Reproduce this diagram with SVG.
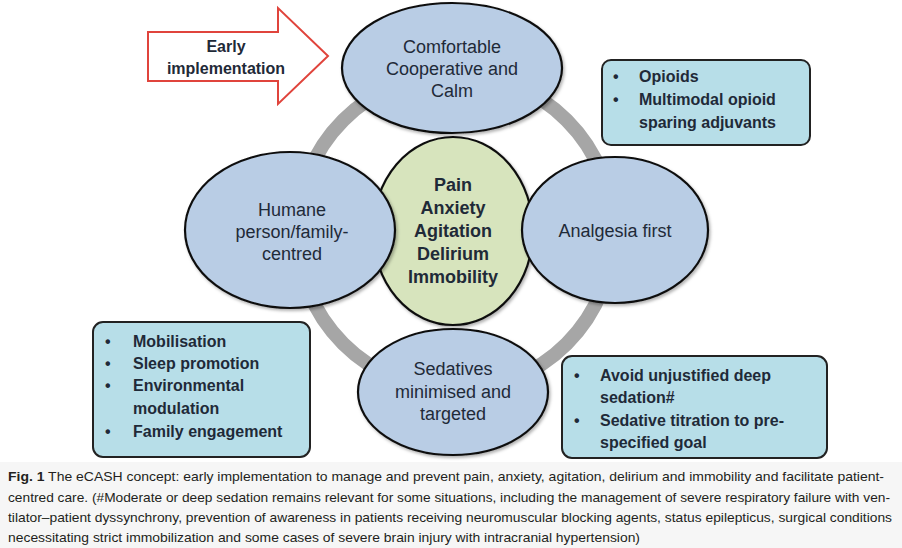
<svg xmlns="http://www.w3.org/2000/svg" width="902" height="548" viewBox="0 0 902 548">
<defs>
<filter id="sh" x="-10%" y="-10%" width="125%" height="125%">
<feDropShadow dx="1.5" dy="2" stdDeviation="1.5" flood-color="#000" flood-opacity="0.3"/>
</filter>
</defs>
<style>
.ell{fill:#b9cde5;stroke:#111;stroke-width:2.2;filter:url(#sh)}
.ctr{fill:#d7e4bd;stroke:#111;stroke-width:2.2;filter:url(#sh)}
.box{fill:#b7dee8;stroke:#222;stroke-width:2}
.t{font-family:"Liberation Sans",Arial,sans-serif;font-size:18px;fill:#1f2a38;text-anchor:middle}
.b{font-family:"Liberation Sans",Arial,sans-serif;font-size:16px;font-weight:bold;fill:#1f2a38}
.cb{font-family:"Liberation Sans",Arial,sans-serif;font-size:18px;font-weight:bold;fill:#1f2a38;text-anchor:middle}
.cap{font-family:"Liberation Sans Narrow","Liberation Sans",Arial,sans-serif;font-size:13.5px;fill:#231f20}
</style>
<rect x="0" y="0" width="902" height="548" fill="#ffffff"/>
<rect x="0" y="462" width="902" height="86" fill="#f6f6f6"/>

<g id="connectors">
<circle cx="455" cy="232" r="158" fill="none" stroke="#a6a6a6" stroke-width="14"/>
</g>

<g id="early-implementation">
<polygon points="148,32 278,32 278,8 328,56 278,104 278,81 148,81" fill="#ffffff" stroke="#e0443c" stroke-width="2"/>
<text class="cb" x="226" y="52" style="font-size:16px">Early</text>
<text class="cb" x="226" y="74" style="font-size:16px">implementation</text>
</g>

<g id="center">
<ellipse class="ctr" cx="453" cy="231" rx="80" ry="94"/>
<text class="cb" x="453" y="191">Pain</text>
<text class="cb" x="453" y="214">Anxiety</text>
<text class="cb" x="453" y="237">Agitation</text>
<text class="cb" x="453" y="260">Delirium</text>
<text class="cb" x="453" y="283">Immobility</text>
</g>

<g id="comfortable">
<ellipse class="ell" cx="452" cy="68" rx="110" ry="65"/>
<text class="t" x="452" y="53">Comfortable</text>
<text class="t" x="452" y="75">Cooperative and</text>
<text class="t" x="452" y="97">Calm</text>
</g>

<g id="humane">
<ellipse class="ell" cx="290" cy="230" rx="105" ry="78"/>
<text class="t" x="292" y="216">Humane</text>
<text class="t" x="292" y="238">person/family-</text>
<text class="t" x="292" y="260">centred</text>
</g>

<g id="analgesia">
<ellipse class="ell" cx="615" cy="230" rx="93" ry="73"/>
<text class="t" x="615" y="237">Analgesia first</text>
</g>

<g id="sedatives">
<ellipse class="ell" cx="453" cy="392" rx="95" ry="63"/>
<text class="t" x="453" y="375">Sedatives</text>
<text class="t" x="453" y="398">minimised and</text>
<text class="t" x="453" y="420">targeted</text>
</g>

<g id="box-opioids">
<rect class="box" x="602" y="60" width="208" height="85" rx="9"/>
<text class="b" x="613" y="82">•</text>
<text class="b" x="639" y="82">Opioids</text>
<text class="b" x="613" y="105">•</text>
<text class="b" x="639" y="105">Multimodal opioid</text>
<text class="b" x="639" y="128">sparing adjuvants</text>
</g>

<g id="box-humane">
<rect class="box" x="93" y="322" width="217" height="135" rx="10"/>
<text class="b" x="105" y="347">•</text>
<text class="b" x="133" y="347">Mobilisation</text>
<text class="b" x="105" y="369">•</text>
<text class="b" x="133" y="369">Sleep promotion</text>
<text class="b" x="105" y="391">•</text>
<text class="b" x="133" y="391">Environmental</text>
<text class="b" x="133" y="414">modulation</text>
<text class="b" x="105" y="437">•</text>
<text class="b" x="133" y="437">Family engagement</text>
</g>

<g id="box-sedatives">
<rect class="box" x="562" y="356" width="265" height="102" rx="10"/>
<text class="b" x="574" y="381">•</text>
<text class="b" x="600" y="381">Avoid unjustified deep</text>
<text class="b" x="600" y="403">sedation#</text>
<text class="b" x="574" y="426">•</text>
<text class="b" x="600" y="426">Sedative titration to pre-</text>
<text class="b" x="600" y="448">specified goal</text>
</g>

<g id="caption">
<text class="cap" x="8" y="481" textLength="876" lengthAdjust="spacingAndGlyphs"><tspan font-weight="bold">Fig. 1</tspan>  The eCASH concept: early implementation to manage and prevent pain, anxiety, agitation, delirium and immobility and facilitate patient-</text>
<text class="cap" x="8" y="502" textLength="882" lengthAdjust="spacingAndGlyphs">centred care. (#Moderate or deep sedation remains relevant for some situations, including the management of severe respiratory failure with ven-</text>
<text class="cap" x="8" y="522" textLength="884" lengthAdjust="spacingAndGlyphs">tilator–patient dyssynchrony, prevention of awareness in patients receiving neuromuscular blocking agents, status epilepticus, surgical conditions</text>
<text class="cap" x="8" y="542" textLength="632" lengthAdjust="spacingAndGlyphs">necessitating strict immobilization and some cases of severe brain injury with intracranial hypertension)</text>
</g>
</svg>
